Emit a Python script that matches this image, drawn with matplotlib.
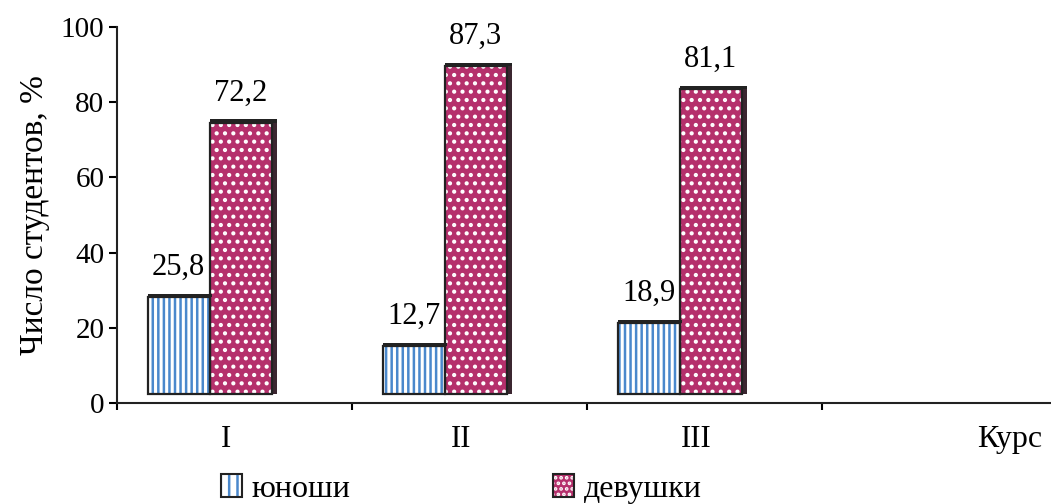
import matplotlib
matplotlib.use("Agg")
import matplotlib.pyplot as plt
from matplotlib.patches import Patch

plt.rcParams['font.family'] = ['Liberation Serif', 'DejaVu Serif']

# data
courses = ['I', 'II', 'III']
boys = [25.8, 12.7, 18.9]
girls = [72.2, 87.3, 81.1]
boys_labels = ['25,8', '12,7', '18,9']
girls_labels = ['72,2', '87,3', '81,1']

blue = '#4a88cc'
magenta = '#b5306c'
floor = 2.4      # 3d "floor" lift of the bars
w = 0.265

fig = plt.figure(figsize=(10.51, 5.04), dpi=100)
ax = fig.add_axes([117 / 1051, 1 - 403 / 504, 940 / 1051, 376 / 504])
plt.rcParams['hatch.linewidth'] = 1.8

xb = [i + 0.13 for i in range(len(courses))]
xg = [x + w for x in xb]

# hatched fills (hatch colour follows edgecolor)
ax.bar(xb, boys, w, bottom=floor, align='edge', color='white',
       edgecolor=blue, linewidth=0, hatch='|||', zorder=2)
ax.bar(xg, girls, w, bottom=floor, align='edge', color=magenta,
       edgecolor='white', linewidth=0, hatch='..', zorder=2)
# outlines
ax.bar(xb, boys, w, bottom=floor, align='edge', fill=False,
       edgecolor='#222222', linewidth=1.6, zorder=3)
ax.bar(xg, girls, w, bottom=floor, align='edge', fill=False,
       edgecolor='#222222', linewidth=1.6, zorder=3)
# 3d side shadow and thick top edge
ax.bar([x + w for x in xg], girls, 0.02, bottom=floor, align='edge',
       color='#3b2630', linewidth=0, zorder=1)
ax.bar(xb, [0.8] * 3, w + 0.01, bottom=[floor + b for b in boys],
       align='edge', color='#222222', linewidth=0, zorder=3)
ax.bar(xg, [0.8] * 3, w + 0.02, bottom=[floor + g for g in girls],
       align='edge', color='#222222', linewidth=0, zorder=3)

for x, v, t in zip(xb, boys, boys_labels):
    ax.text(x + w / 2, v + floor + 4, t, ha='center', va='bottom', fontsize=22)
for x, v, t in zip(xg, girls, girls_labels):
    ax.text(x + w / 2, v + floor + 4, t, ha='center', va='bottom', fontsize=22)

ax.set_xlim(0, 4)
ax.set_ylim(0, 100)
ax.set_yticks(range(0, 101, 20))
ax.set_xticks(range(0, 5))
ax.set_xticklabels([])
ax.set_xticks([i + 0.465 for i in range(len(courses))], courses, minor=True)
ax.tick_params(axis='x', which='minor', length=0, pad=16, labelsize=22)
ax.tick_params(axis='x', which='major', length=5, width=1.5, direction='out')
ax.tick_params(axis='y', length=6, width=1.5, direction='out', labelsize=21, pad=3)
for s in ['top', 'right']:
    ax.spines[s].set_visible(False)
for s in ['left', 'bottom']:
    ax.spines[s].set_linewidth(1.5)
    ax.spines[s].set_color('#222222')

ax.set_ylabel('Число студентов, %', fontsize=24, labelpad=8)
fig.text(1010 / 1051, 1 - 440 / 504, 'Курс', ha='center', va='center', fontsize=23)

h_boys = (Patch(facecolor='white', edgecolor=blue, linewidth=0, hatch='||'),
          Patch(fill=False, edgecolor='#222222', linewidth=1.5))
h_girls = (Patch(facecolor=magenta, edgecolor='white', linewidth=0, hatch='...'),
           Patch(fill=False, edgecolor='#222222', linewidth=1.5))
fig.legend([h_boys, h_girls], ['юноши', 'девушки'], ncol=2, frameon=False,
           loc='center left', bbox_to_anchor=(221 / 1051, 1 - 489 / 504),
           fontsize=23, handlelength=0.65, handleheight=0.7,
           handletextpad=0.3, columnspacing=6.35, borderpad=0,
           borderaxespad=0)

fig.savefig('out.png', dpi=100)
